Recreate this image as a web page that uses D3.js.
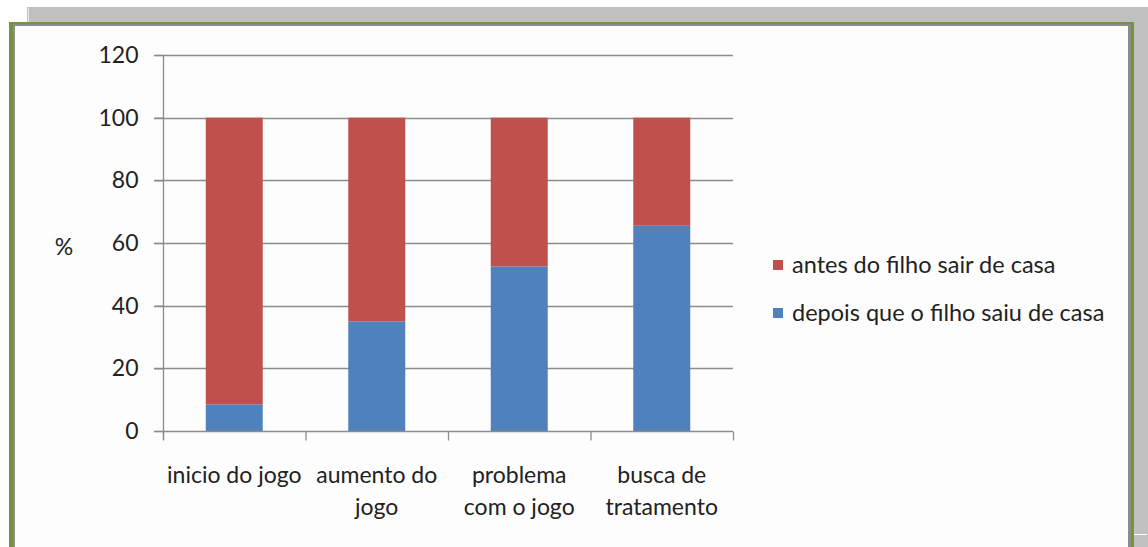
<!DOCTYPE html>
<html>
<head>
<meta charset="utf-8">
<script src="https://cdn.jsdelivr.net/npm/d3@7"></script>
<style>
  html, body { margin: 0; padding: 0; background: #fff; }
  svg { display: block; }
</style>
</head>
<body>
<div id="chart"></div>
<script>
// ---- data ----
const categories = [['inicio do jogo'], ['aumento do', 'jogo'], ['problema', 'com o jogo'], ['busca de', 'tratamento']]
const depoisValues = [8.5, 35, 52.5, 65.5]
const antesValues = [91.5, 65, 47.5, 34.5]
const seriesNames = ['antes do filho sair de casa', 'depois que o filho saiu de casa']
const yTicks = [0, 20, 40, 60, 80, 100, 120]

const W = 1148, H = 547
const FONT = 'Lato, "Open Sans", sans-serif'
const RED = '#C0504D', BLUE = '#4F81BD'
const TXT = '#222222'

const svg = d3.select('#chart').append('svg').attr('width', W).attr('height', H)

// ---- frame ----
svg.append('rect').attr('x', 0).attr('y', 0).attr('width', W).attr('height', H).attr('fill', '#ffffff')
svg.append('rect').attr('x', 27).attr('y', 7).attr('width', W - 27).attr('height', H - 7).attr('fill', '#c0c0c0')
svg.append('line').attr('x1', 28.5).attr('x2', 28.5).attr('y1', 8).attr('y2', 22)
  .attr('stroke', '#e8e8e8').attr('stroke-width', 1)
svg.append('rect').attr('x', 9).attr('y', 22).attr('width', 1134 - 9).attr('height', H).attr('fill', '#77933C')
svg.append('rect').attr('x', 13).attr('y', 24).attr('width', 1131 - 13).attr('height', H).attr('fill', '#8c8c8c')
svg.append('rect').attr('x', 15).attr('y', 26).attr('width', 1128 - 15).attr('height', H).attr('fill', '#fdfdfd')
svg.append('line').attr('x1', 1134).attr('x2', 1147).attr('y1', 534.5).attr('y2', 534.5)
  .attr('stroke', '#ffffff').attr('stroke-width', 1)

// ---- scales ----
const x = d3.scaleBand().domain(d3.range(categories.length)).range([163, 733]).paddingInner(0).paddingOuter(0)
const y = d3.scaleLinear().domain([0, 120]).range([431, 55])
const barW = x.bandwidth() * 0.4

// gridlines
svg.append('g').selectAll('line').data(yTicks.filter(d => d > 0)).join('line')
  .attr('x1', 154).attr('x2', 733)
  .attr('y1', d => Math.round(y(d)) + 0.5).attr('y2', d => Math.round(y(d)) + 0.5)
  .attr('stroke', '#8c8c8c').attr('stroke-width', 1.3)

// y axis
svg.append('g')
  .attr('transform', 'translate(163.5,0)')
  .call(d3.axisLeft(y).tickValues(yTicks).tickSize(9).tickPadding(16))
  .call(g => {
    g.select('.domain').attr('stroke', '#8c8c8c').attr('stroke-width', 1.3).attr('d', `M0,${y(120)}V${y(0) + 9}`)
    g.selectAll('.tick line').attr('stroke', '#8c8c8c').attr('stroke-width', 1.3)
    g.selectAll('.tick text').attr('fill', TXT).attr('font-size', '23px').attr('font-family', FONT)
  })

svg.append('text').attr('x', 64).attr('y', 247).attr('dy', '0.35em')
  .attr('text-anchor', 'middle').attr('fill', TXT)
  .attr('font-size', '23px').attr('font-family', FONT).text('%')

// bars
const stack = categories.map((c, i) => ({ i, depois: depoisValues[i], antes: antesValues[i] }))
const barsG = svg.append('g')
barsG.selectAll('rect.depois').data(stack).join('rect').attr('class', 'depois')
  .attr('x', d => x(d.i) + (x.bandwidth() - barW) / 2).attr('width', barW)
  .attr('y', d => y(d.depois)).attr('height', d => y(0) - y(d.depois))
  .attr('fill', BLUE)
barsG.selectAll('rect.antes').data(stack).join('rect').attr('class', 'antes')
  .attr('x', d => x(d.i) + (x.bandwidth() - barW) / 2).attr('width', barW)
  .attr('y', d => y(d.depois + d.antes)).attr('height', d => y(d.depois) - y(d.depois + d.antes))
  .attr('fill', RED)

// x axis
const xAxisG = svg.append('g').attr('transform', `translate(0,${Math.round(y(0)) + 0.5})`)
xAxisG.append('line').attr('x1', 154).attr('x2', 733).attr('stroke', '#8c8c8c').attr('stroke-width', 1.5)
xAxisG.selectAll('line.tk').data(d3.range(categories.length + 1)).join('line').attr('class', 'tk')
  .attr('x1', d => (d < categories.length ? x(d) : x.range()[1]) + 0.5)
  .attr('x2', d => (d < categories.length ? x(d) : x.range()[1]) + 0.5)
  .attr('y1', 0).attr('y2', 9)
  .attr('stroke', '#8c8c8c').attr('stroke-width', 1.3)

const labels = svg.append('g').selectAll('text').data(categories).join('text')
  .attr('x', (d, i) => x(i) + x.bandwidth() / 2)
  .attr('y', 475)
  .attr('text-anchor', 'middle').attr('fill', TXT)
  .attr('font-size', '23px').attr('font-family', FONT)
labels.selectAll('tspan').data(d => d).join('tspan')
  .attr('x', function () { return this.parentNode.getAttribute('x') })
  .attr('dy', (d, i) => i === 0 ? '0.35em' : 32)
  .text(d => d)

// legend
const legend = svg.append('g')
const legendItems = [
  { name: seriesNames[0], color: RED, y: 265 },
  { name: seriesNames[1], color: BLUE, y: 313 }
]
legend.selectAll('rect').data(legendItems).join('rect')
  .attr('x', 773).attr('y', d => d.y - 5).attr('width', 10).attr('height', 10)
  .attr('fill', d => d.color)
legend.selectAll('text').data(legendItems).join('text')
  .attr('x', 792).attr('y', d => d.y).attr('dy', '0.35em')
  .attr('fill', TXT).attr('font-size', '23.5px').attr('font-family', FONT)
  .text(d => d.name)
</script>
</body>
</html>
